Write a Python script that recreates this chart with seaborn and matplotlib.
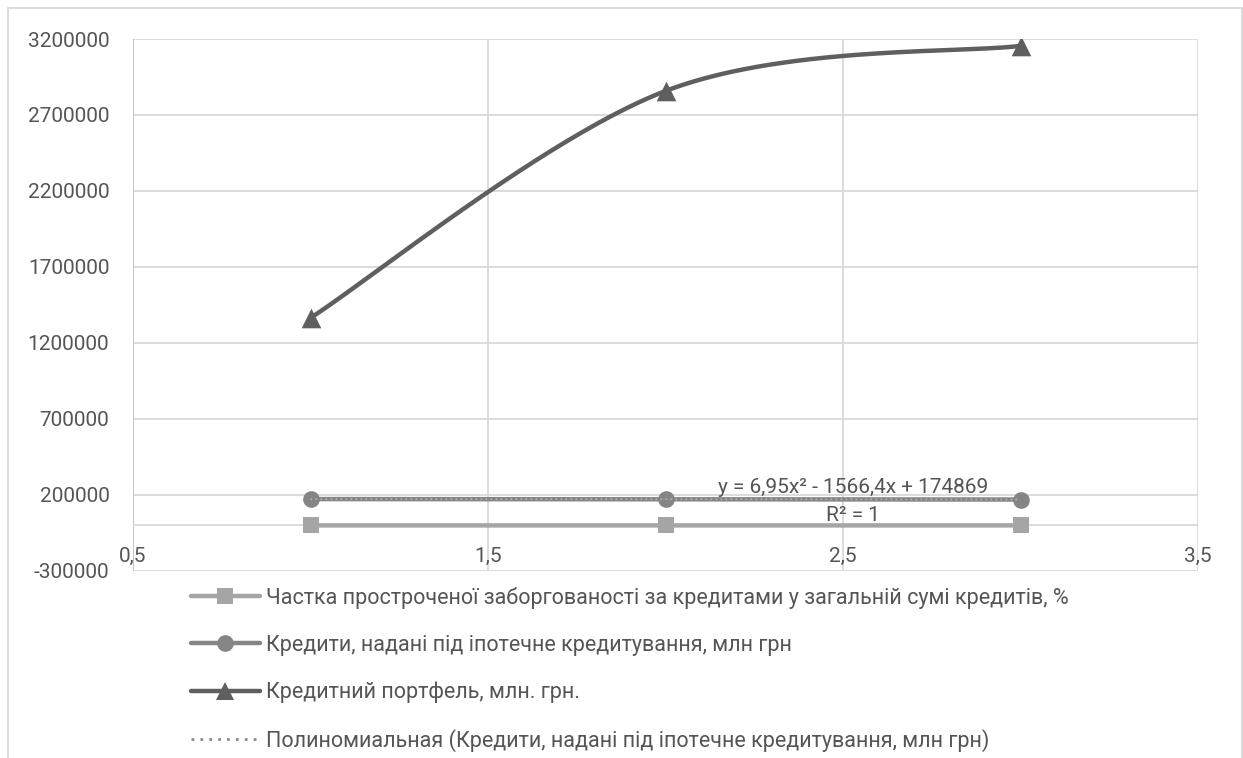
import numpy as np
import pandas as pd
import matplotlib
matplotlib.use("Agg")
import matplotlib.pyplot as plt
from matplotlib.lines import Line2D
from matplotlib.patches import Rectangle
import seaborn as sns

# ---- data -------------------------------------------------------------
periods = [1, 2, 3]
overdue_share = [5.2, 6.1, 6.6]                        # %, share of overdue loans
mortgage_loans = [173309.55, 171764.0, 170232.35]     # mln UAH
loan_portfolio = [1365000, 2858000, 3155000]          # mln UAH

label_share = "Частка простроченої заборгованості за кредитами у загальній сумі кредитів, %"
label_mortgage = "Кредити, надані під іпотечне кредитування, млн грн"
label_portfolio = "Кредитний портфель, млн. грн."
label_trend = "Полиномиальная (Кредити, надані під іпотечне кредитування, млн грн)"

y_ticks = [-300000, 200000, 700000, 1200000, 1700000, 2200000, 2700000, 3200000]
x_ticks = [0.5, 1.5, 2.5, 3.5]
x_tick_labels = ["0,5", "1,5", "2,5", "3,5"]

# ---- style ------------------------------------------------------------
sns.set_theme(style="white")
plt.rcParams["font.family"] = ["Roboto", "DejaVu Sans"]
TXT = "#555555"
GRID = "#d9d9d9"
C_SHARE = "#a5a5a5"
C_MORT = "#858585"
C_PORT = "#5f5f5f"
FS = 15
FS_LEG = 15.5


def smooth_curve(xs, ys, n=80):
    """Cubic Bezier smoothing through the points (spreadsheet-style)."""
    p = np.column_stack([xs, ys]).astype(float)
    out = []
    for i in range(len(p) - 1):
        p0 = p[i - 1] if i > 0 else p[i]
        p1, p2 = p[i], p[i + 1]
        p3 = p[i + 2] if i + 2 < len(p) else p[i + 1]
        c1 = p1 + (p2 - p0) / 6.0
        c2 = p2 - (p3 - p1) / 6.0
        t = np.linspace(0, 1, n)[:, None]
        seg = ((1 - t) ** 3) * p1 + 3 * ((1 - t) ** 2) * t * c1 + 3 * (1 - t) * t ** 2 * c2 + t ** 3 * p2
        out.append(seg if i == 0 else seg[1:])
    seg = np.vstack(out)
    return seg[:, 0], seg[:, 1]


W, H = 1243, 758
fig = plt.figure(figsize=(W / 100, H / 100), dpi=100)
ax = fig.add_axes([133 / W, 1 - 571 / H, (1198 - 133) / W, (571 - 39) / H])

df = pd.DataFrame({"x": periods, "share": overdue_share,
                   "mortgage": mortgage_loans, "portfolio": loan_portfolio})

# share of overdue loans
sns.lineplot(data=df, x="x", y="share", ax=ax, color=C_SHARE, lw=3.2,
             marker="s", markersize=11, markeredgewidth=0, zorder=4)
# mortgage loans
sns.lineplot(data=df, x="x", y="mortgage", ax=ax, color=C_MORT, lw=3.2,
             marker="o", markersize=12, markeredgewidth=0, zorder=5)

# polynomial trend for mortgage loans
coef = np.polyfit(periods, mortgage_loans, 2)
tx = np.linspace(periods[0], periods[-1], 200)
trend = pd.DataFrame({"x": tx, "y": np.polyval(coef, tx)})
sns.lineplot(data=trend, x="x", y="y", ax=ax, color="#b5b5b5", lw=1.2,
             linestyle=(0, (1, 2)), zorder=6)

# loan portfolio (smoothed line + markers)
sx, sy = smooth_curve(periods, loan_portfolio)
smooth = pd.DataFrame({"x": sx, "y": sy})
sns.lineplot(data=smooth, x="x", y="y", ax=ax, color=C_PORT, lw=3.2,
             sort=False, zorder=5)
sns.scatterplot(data=df, x="x", y="portfolio", ax=ax, color=C_PORT,
                marker="^", s=200, linewidth=0, zorder=6)

# trend equation and R^2
pred = np.polyval(coef, periods)
ss_res = np.sum((np.array(mortgage_loans) - pred) ** 2)
ss_tot = np.sum((np.array(mortgage_loans) - np.mean(mortgage_loans)) ** 2)
r2 = 1 - ss_res / ss_tot
a, b, c = coef
eq = "y = {}x² {} {}x + {}".format(
    f"{a:.2f}".replace(".", ","),
    "-" if b < 0 else "+",
    f"{abs(b):.1f}".replace(".", ","),
    f"{c:.0f}")
ax.text(2.528, 250000, eq, ha="center", va="center", fontsize=FS, color=TXT, zorder=7)
ax.text(2.528, 66000, f"R² = {r2:.0f}", ha="center", va="center", fontsize=FS, color=TXT, zorder=7)

# ---- axes -------------------------------------------------------------
ax.set_xlim(0.5, 3.5)
ax.set_ylim(-300000, 3200000)
ax.set_yticks(y_ticks)
ax.set_yticklabels([str(v) for v in y_ticks])
ax.set_xticks(x_ticks)
ax.set_xticklabels(x_tick_labels)
ax.set_xlabel("")
ax.set_ylabel("")
ax.yaxis.grid(True, color=GRID, lw=1.3)
ax.xaxis.grid(False)
for xv in x_ticks[1:]:
    ax.axvline(xv, color=GRID, lw=1.3, zorder=0)
ax.axvline(x_ticks[0], color="#bfbfbf", lw=1.3, zorder=1)
ax.axhline(0, color=GRID, lw=1.3, zorder=1)
ax.set_axisbelow(True)
for s in ["top", "right", "left", "bottom"]:
    ax.spines[s].set_visible(False)
ax.tick_params(axis="both", length=0, labelsize=FS, colors=TXT)
ax.tick_params(axis="y", pad=17)
# x tick labels sit just under the zero line
ax.tick_params(axis="x", pad=-17)

# ---- legend -----------------------------------------------------------
handles = [
    Line2D([], [], color=C_SHARE, lw=3.2, marker="s", markersize=11, markeredgewidth=0),
    Line2D([], [], color=C_MORT, lw=3.2, marker="o", markersize=12, markeredgewidth=0),
    Line2D([], [], color=C_PORT, lw=3.2, marker="^", markersize=13, markeredgewidth=0),
    Line2D([], [], color="#8c8c8c", lw=2.0, linestyle=(0, (1, 2.2))),
]
labels = [label_share, label_mortgage, label_portfolio, label_trend]
leg = fig.legend(handles, labels, loc="upper left",
                 bbox_to_anchor=(191 / W, 1 - 587 / H),
                 frameon=False, fontsize=FS_LEG, handlelength=3.2,
                 handletextpad=0.3, labelspacing=1.2, borderpad=0,
                 borderaxespad=0)
for t in leg.get_texts():
    t.set_color(TXT)

# chart border
fig.patches.append(Rectangle((8 / W, -0.05), (1242 - 8) / W, 1.05 - 8 / H,
                             transform=fig.transFigure, fill=False,
                             edgecolor=GRID, lw=1.3))

fig.savefig("out.png", dpi=100, facecolor="white")
